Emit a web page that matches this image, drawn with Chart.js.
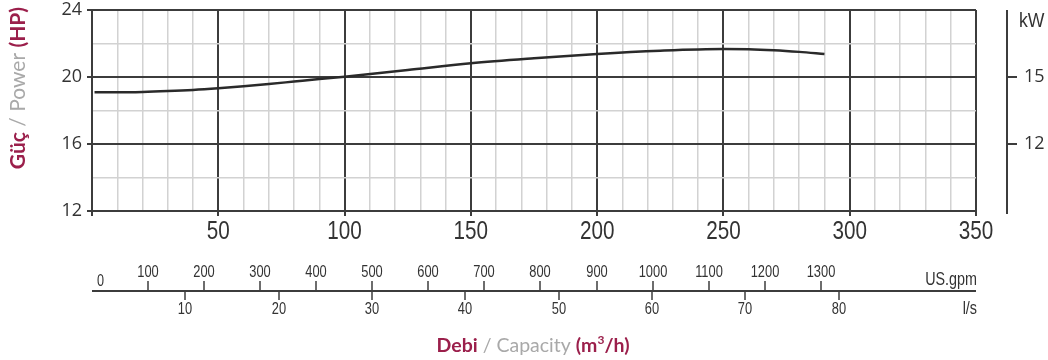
<!DOCTYPE html>
<html>
<head>
<meta charset="utf-8">
<title>Güç / Power</title>
<script src="https://cdn.jsdelivr.net/npm/chart.js@4.4.0/dist/chart.umd.min.js"></script>
<style>
  html, body { margin: 0; padding: 0; background: #fff; }
  canvas { display: block; }
</style>
</head>
<body>
<canvas id="powerChart" width="1048" height="360"></canvas>
<script>
// Capacity (m3/h) vs shaft power (HP)
const flowM3h = [1, 10, 20, 30, 40, 50, 60, 70, 80, 90, 100, 125, 150, 175, 200, 225, 250, 260, 270, 280, 290];
const powerHP = [19.09, 19.09, 19.11, 19.16, 19.23, 19.33, 19.45, 19.58, 19.73, 19.88, 20.02, 20.42, 20.82, 21.12, 21.38, 21.57, 21.67, 21.66, 21.6, 21.5, 21.37];

// secondary scales drawn under / beside the chart
const gpmTicks = [100, 200, 300, 400, 500, 600, 700, 800, 900, 1000, 1100, 1200, 1300];
const lsTicks = [10, 20, 30, 40, 50, 60, 70, 80];
const kwTicks = [12, 15];

const MAROON = '#9b1f4b';
const GREY = '#a9a9a9';
const INK = '#333333';
const MAJOR = '#3c3c3c';
const MINOR = '#d2d2d2';
const ARIAL = '"Liberation Sans", Arial, sans-serif';
const TITLE = 'Lato, "Open Sans", sans-serif';

// draws a run of differently styled text pieces, centred on x
function drawRich(ctx, parts, x, y) {
    let total = 0;
    parts.forEach(p => {
        ctx.font = p.font;
        p.w = ctx.measureText(p.text).width;
        total += p.w;
    });
    let cx = x - total / 2;
    ctx.textAlign = 'left';
    ctx.textBaseline = 'alphabetic';
    parts.forEach(p => {
        ctx.font = p.font;
        ctx.fillStyle = p.color;
        ctx.fillText(p.text, cx, y + (p.dy || 0));
        cx += p.w;
    });
}

// the original uses a condensed face; squeeze Liberation Sans horizontally
function narrowText(ctx, text, x, y, size, align, squeeze) {
    ctx.save();
    ctx.translate(x, y);
    ctx.scale(squeeze || 0.79, 1);
    ctx.font = size + 'px ' + ARIAL;
    ctx.textAlign = align || 'center';
    ctx.textBaseline = 'alphabetic';
    ctx.fillText(text, 0, 0);
    ctx.restore();
}

const extraAxes = {
    id: 'extraAxes',
    afterDraw(chart) {
        const ctx = chart.ctx;
        const area = chart.chartArea;
        const xs = chart.scales.x;
        const gpm = chart.scales.gpm;
        const ls = chart.scales.ls;
        const kw = chart.scales.kw;
        ctx.save();
        ctx.fillStyle = INK;
        ctx.strokeStyle = MAJOR;

        // main capacity labels
        xs.ticks.forEach(t => {
            if (t.value % 50 === 0 && t.value > 0) {
                narrowText(ctx, String(t.value), xs.getPixelForValue(t.value), area.bottom + 28, 26.5, 'center', 0.78);
            }
        });

        // flow axis: US.gpm above the line, l/s below
        const lineY = area.bottom + 80;
        ctx.lineWidth = 2;
        ctx.beginPath();
        ctx.moveTo(area.left, lineY);
        ctx.lineTo(area.right, lineY);
        ctx.stroke();

        ctx.lineWidth = 1.5;
        gpmTicks.forEach(v => {
            const px = Math.round(gpm.getPixelForValue(v));
            ctx.beginPath();
            ctx.moveTo(px, lineY);
            ctx.lineTo(px, lineY - 10);
            ctx.stroke();
            narrowText(ctx, String(v), px, lineY - 14, 16.3);
        });
        lsTicks.forEach(v => {
            const px = Math.round(ls.getPixelForValue(v));
            ctx.beginPath();
            ctx.moveTo(px, lineY);
            ctx.lineTo(px, lineY + 9);
            ctx.stroke();
            narrowText(ctx, String(v), px, lineY + 22.5, 16.3);
        });
        narrowText(ctx, '0', area.left + 5, lineY - 5, 16, 'left');
        narrowText(ctx, 'US.gpm', area.right + 1, lineY - 6, 17.5, 'right', 0.82);
        narrowText(ctx, 'l/s', area.right + 1, lineY + 22.5, 17.5, 'right', 0.82);

        // kW axis on the right
        const axisX = area.right + 31;
        ctx.lineWidth = 2;
        ctx.beginPath();
        ctx.moveTo(axisX, area.top);
        ctx.lineTo(axisX, area.bottom + 3);
        ctx.stroke();
        ctx.font = '18px "Open Sans", sans-serif';
        ctx.textAlign = 'left';
        ctx.textBaseline = 'middle';
        kwTicks.forEach(v => {
            const py = Math.round(kw.getPixelForValue(v));
            ctx.beginPath();
            ctx.moveTo(axisX, py);
            ctx.lineTo(axisX + 10, py);
            ctx.stroke();
            ctx.fillText(String(v), axisX + 17, py);
        });
        narrowText(ctx, 'kW', axisX + 12, area.top + 17, 20.5, 'left', 0.86);

        // axis titles
        drawRich(ctx, [
            { text: 'Debi', font: 'bold 19.5px ' + TITLE, color: MAROON },
            { text: ' / Capacity ', font: '19.5px ' + TITLE, color: GREY },
            { text: '(m', font: 'bold 19.5px ' + TITLE, color: MAROON },
            { text: '3', font: 'bold 12px ' + TITLE, color: MAROON, dy: -8 },
            { text: '/h)', font: 'bold 19.5px ' + TITLE, color: MAROON }
        ], (area.left + area.right) / 2 - 1, area.bottom + 141);

        ctx.translate(25, 88);
        ctx.rotate(-Math.PI / 2);
        drawRich(ctx, [
            { text: 'Güç', font: 'bold 21px ' + TITLE, color: MAROON },
            { text: ' / Power ', font: '21px ' + TITLE, color: GREY },
            { text: '(HP)', font: 'bold 21px ' + TITLE, color: MAROON }
        ], 0, 0);

        ctx.restore();
    }
};

const isMajorX = c => c.tick && c.tick.value % 50 === 0;
const isMajorY = c => c.tick && c.tick.value % 4 === 0;

const chart = new Chart(document.getElementById('powerChart'), {
    type: 'line',
    data: {
        datasets: [{
            data: flowM3h.map((q, i) => ({ x: q, y: powerHP[i] })),
            borderColor: '#2a2a2a',
            borderWidth: 2.5,
            pointRadius: 0,
            cubicInterpolationMode: 'monotone',
            fill: false,
            xAxisID: 'x',
            yAxisID: 'y'
        }]
    },
    options: {
        responsive: false,
        animation: false,
        events: [],
        layout: { padding: { top: 10, right: 72, bottom: 109, left: 0 } },
        plugins: {
            legend: { display: false },
            tooltip: { enabled: false }
        },
        scales: {
            x: {
                type: 'linear',
                position: 'bottom',
                min: 0,
                max: 350,
                ticks: {
                    stepSize: 10,
                    autoSkip: false,
                    maxRotation: 0,
                    // labels are drawn condensed by the extraAxes plugin
                    callback: () => ''
                },
                grid: {
                    color: c => isMajorX(c) ? MAJOR : MINOR,
                    lineWidth: c => isMajorX(c) ? 2 : 1.5,
                    tickColor: c => isMajorX(c) ? MAJOR : 'rgba(0,0,0,0)',
                    tickLength: 5
                },
                border: { display: true, color: MAJOR, width: 2 },
                afterFit: s => {
                    s.height = 40;
                    s.paddingLeft = 0;
                    s.paddingRight = 0;
                }
            },
            y: {
                type: 'linear',
                position: 'left',
                min: 12,
                max: 24,
                ticks: {
                    stepSize: 2,
                    autoSkip: false,
                    padding: 5,
                    color: INK,
                    font: { family: '"Open Sans", sans-serif', size: 18 },
                    callback: v => v % 4 === 0 ? v : ''
                },
                grid: {
                    color: c => isMajorY(c) ? MAJOR : MINOR,
                    lineWidth: c => isMajorY(c) ? 2 : 1.5,
                    tickColor: c => isMajorY(c) ? MAJOR : 'rgba(0,0,0,0)',
                    tickLength: 5
                },
                border: { display: true, color: MAJOR, width: 2 },
                afterFit: s => {
                    s.width = 92;
                    s.paddingTop = 0;
                    s.paddingBottom = 0;
                }
            },
            gpm: { type: 'linear', position: 'bottom', display: false, min: 0, max: 1577 },
            ls: { type: 'linear', position: 'bottom', display: false, min: 0, max: 94.7 },
            kw: { type: 'linear', position: 'right', display: false, min: 9, max: 18 }
        }
    },
    plugins: [extraAxes]
});
</script>
</body>
</html>
